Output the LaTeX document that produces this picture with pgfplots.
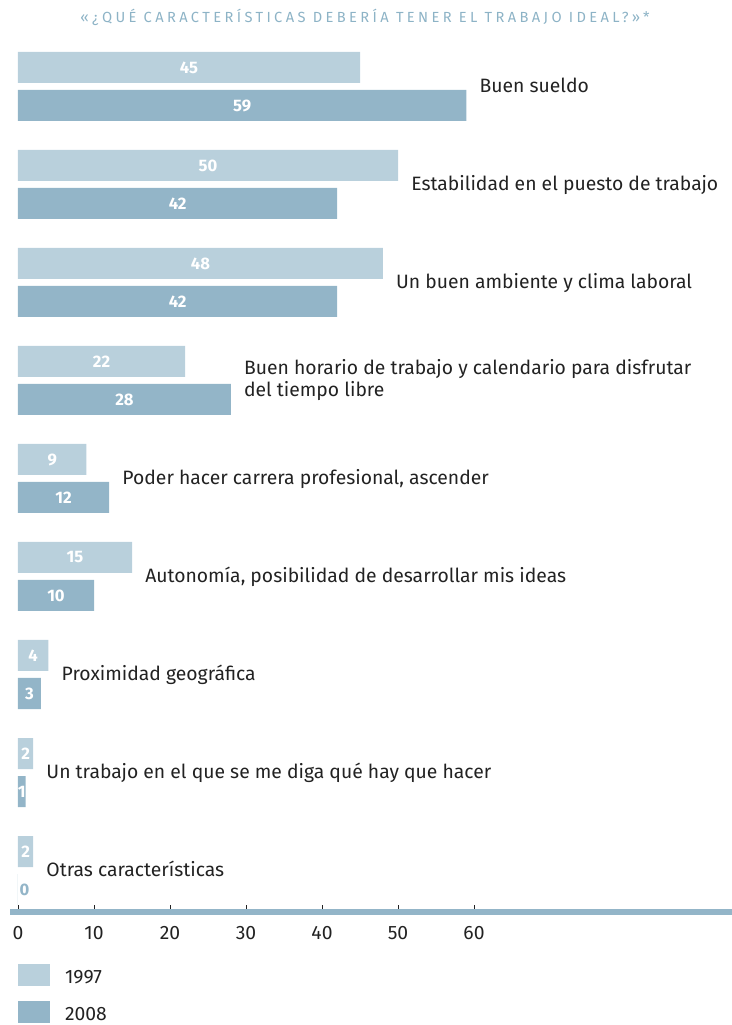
\documentclass[border=0pt]{standalone}
\usepackage{pgfplots}
\pgfplotsset{compat=1.18}
\usepackage{pgfplotstable}
\usepackage{fontspec}
\setmainfont{Fira Sans}
\newfontfamily\ttlfont[LetterSpace=23]{Fira Sans}
\definecolor{c97}{HTML}{B9D0DC}
\definecolor{c08}{HTML}{93B5C8}
\definecolor{ttl}{HTML}{8DB3C6}
\definecolor{txt}{HTML}{222222}

% i = category (top to bottom), a = 1997, b = 2008
\pgfplotstableread{
i a b
0 45 59
1 50 42
2 48 42
3 22 28
4 9 12
5 15 10
6 4 3
7 2 1
8 2 0
}\datos

\newcommand{\lbl}[4][base west]{\node[anchor=#1, inner sep=0pt, xshift=9.75pt, text=txt,
  font=\fontsize{14.5}{16.5}\selectfont, align=left] at (axis cs:#2,#3) {#4};}

\begin{document}
\begin{tikzpicture}
\begin{axis}[
  scale only axis, width=541.5pt, height=654pt,
  xmin=-1.0526, xmax=93.947, ymin=-912, ymax=-40,
  axis y line=none, axis x line*=bottom,
  x axis line style={-, line width=4.3pt, draw=c08},
  xtick={0,10,...,60}, ytick=\empty,
  tick align=inside, major tick length=5.5pt,
  xtick style={txt, line width=0.6pt},
  xticklabel style={font=\fontsize{14.5}{16}\selectfont, text=txt, yshift=-7pt},
  /pgf/number format/assume math mode=true,
  clip=false,
  legend style={at={(axis description cs:0.0111,-0.0596)}, anchor=north west,
    draw=none, fill=none, inner sep=0pt, outer sep=0pt, row sep=11pt,
    font=\fontsize{14.5}{16}\selectfont, text=txt, nodes={inner sep=0pt}},
  legend cell align=left,
  legend image code/.code={\fill[#1] (0pt,-6pt) rectangle (24pt,10.5pt); \path (35.25pt,0pt);},
]
\addplot[xbar, bar width=31, bar shift=0pt, fill=c97, draw=none]
  table[x=a, y expr=-67.5-98*\thisrow{i}] \datos;
\addlegendentry{1997}
\addplot[xbar, bar width=31, bar shift=0pt, fill=c08, draw=none]
  table[x=b, y expr=-105.5-98*\thisrow{i}] \datos;
\addlegendentry{2008}

% value labels
\addplot[forget plot, draw=none, mark=none, nodes near coords, point meta=explicit,
  nodes near coords style={text=white, anchor=center, font=\fontsize{12.5}{14}\bfseries}]
  table[x expr=\thisrow{a}/2, y expr=-67.5-98*\thisrow{i}, meta=a] \datos;
\addplot[forget plot, draw=none, mark=none, nodes near coords, point meta=explicit,
  skip coords between index={8}{9},
  nodes near coords style={text=white, anchor=center, font=\fontsize{12.5}{14}\bfseries}]
  table[x expr=\thisrow{b}/2, y expr=-105.5-98*\thisrow{i}, meta=b] \datos;
\addplot[forget plot, draw=none, mark=none, nodes near coords, point meta=explicit,
  nodes near coords style={text=c08, anchor=west, inner sep=0pt, xshift=1pt, font=\fontsize{12.5}{14}\bfseries}]
  coordinates {(0,-889.5) [0]};

% category labels
\lbl{59}{-92.5}{Buen sueldo}
\lbl{50}{-190.5}{Estabilidad en el puesto de trabajo}
\lbl{48}{-288.5}{Un buen ambiente y clima laboral}
\lbl[west]{28}{-380.5}{Buen horario de trabajo y calendario para disfrutar\\del tiempo libre}
\lbl{12}{-484.5}{Poder hacer carrera profesional, ascender}
\lbl{15}{-582.5}{Autonomía, posibilidad de desarrollar mis ideas}
\lbl{4}{-680.5}{Proximidad geográfica}
\lbl{2}{-778.5}{Un trabajo en el que se me diga qué hay que hacer}
\lbl{2}{-876.5}{Otras características}

\node[anchor=base, text=ttl, font=\fontsize{11}{12}\ttlfont] at (axis cs:45.66,-23)
  {«¿QUÉ CARACTERÍSTICAS DEBERÍA TENER EL TRABAJO IDEAL?»*};

\coordinate (TL) at (axis cs:-2.3684,0);
\coordinate (BR) at (axis cs:93.947,-1025);
\end{axis}
\pgfresetboundingbox
\path[use as bounding box] (TL) rectangle (BR);
\end{tikzpicture}
\end{document}
